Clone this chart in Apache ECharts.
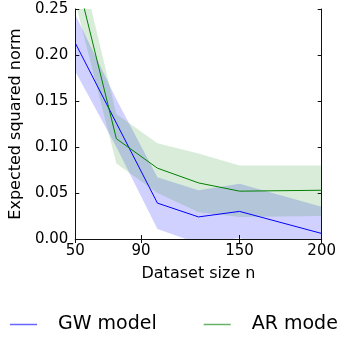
<!DOCTYPE html>
<html>
<head>
<meta charset="utf-8">
<script src="https://cdn.jsdelivr.net/npm/echarts@6/dist/echarts.min.js"></script>
<style>
  html, body { margin: 0; padding: 0; background: #fff; }
  #chart { width: 339px; height: 337px; }
</style>
</head>
<body>
<div id="chart"></div>
<script>
// dataset sizes on the x axis
const sizes = [50, 75, 100, 125, 150, 200];
const xTicks = [50, 90, 150, 200];

// GW model: mean line and shaded band
const gwMean = [0.213, 0.126, 0.039, 0.024, 0.030, 0.006];
const gwLow = [0.182, 0.100, 0.011, -0.005, 0.001, -0.023];
const gwHigh = [0.244, 0.152, 0.067, 0.053, 0.060, 0.035];

// AR model: mean line and shaded band
const arMean = [0.290, 0.109, 0.077, 0.061, 0.052, 0.053];
const arLow = [0.257, 0.082, 0.050, 0.029, 0.024, 0.025];
const arHigh = [0.323, 0.136, 0.104, 0.093, 0.080, 0.080];

const FONT = 'DejaVu Sans';
const pairs = (ys) => sizes.map((x, i) => [x, ys[i]]);

// band polygon: upper edge left->right, lower edge right->left
const band = (lo, hi, fill) => ({
  type: 'custom',
  silent: true,
  data: sizes.map((x, i) => [x, lo[i], hi[i]]),
  renderItem: (params, api) => {
    if (params.dataIndex !== 0) return;
    const top = sizes.map((x, i) => api.coord([x, hi[i]]));
    const bot = sizes.map((x, i) => api.coord([x, lo[i]])).reverse();
    const cs = params.coordSys;
    return {
      type: 'polygon',
      shape: { points: top.concat(bot) },
      style: { fill: fill },
      clipPath: { type: 'rect', shape: { x: cs.x, y: cs.y, width: cs.width, height: cs.height } }
    };
  }
});

const chart = echarts.init(document.getElementById('chart'));

const axisLine = { show: true, lineStyle: { color: '#111', width: 1 } };
const tick = { inside: true, length: 4, lineStyle: { color: '#111' } };

chart.setOption({
  animation: false,
  grid: { left: 73, right: 15, top: 9, bottom: 98 },
  legend: {
    data: [
      { name: 'GW model', itemStyle: { color: 'rgba(0,0,255,0.6)' } },
      { name: 'AR model', itemStyle: { color: 'rgba(0,128,0,0.6)' } }
    ],
    icon: 'rect',
    itemWidth: 27,
    itemHeight: 1.5,
    left: 5,
    top: 310,
    width: 700,
    itemGap: 47,
    textStyle: { fontFamily: FONT, fontSize: 19, color: '#000', padding: [0, 0, 0, 16] }
  },
  xAxis: [
    {
      type: 'value', min: 50, max: 200,
      name: 'Dataset size n', nameLocation: 'middle', nameGap: 27,
      nameTextStyle: { fontFamily: FONT, fontSize: 16, color: '#000' },
      axisLine: axisLine,
      axisTick: Object.assign({ customValues: xTicks }, tick),
      axisLabel: { customValues: xTicks, fontFamily: FONT, fontSize: 15, color: '#000', margin: 5 },
      splitLine: { show: false }
    },
    {
      type: 'value', min: 50, max: 200, position: 'top',
      axisLine: axisLine,
      axisTick: Object.assign({ customValues: xTicks }, tick),
      axisLabel: { show: false },
      splitLine: { show: false }
    }
  ],
  yAxis: [
    {
      type: 'value', min: 0, max: 0.25, interval: 0.05,
      name: 'Expected squared norm', nameLocation: 'middle', nameGap: 49,
      nameTextStyle: { fontFamily: FONT, fontSize: 16, color: '#000' },
      axisLine: axisLine,
      axisTick: tick,
      axisLabel: { fontFamily: FONT, fontSize: 15, color: '#000', margin: 7, formatter: (v) => v.toFixed(2) },
      splitLine: { show: false }
    },
    {
      type: 'value', min: 0, max: 0.25, interval: 0.05, position: 'right',
      axisLine: axisLine,
      axisTick: tick,
      axisLabel: { show: false },
      splitLine: { show: false }
    }
  ],
  series: [
    band(gwLow, gwHigh, 'rgba(0,0,255,0.18)'),
    band(arLow, arHigh, 'rgba(0,128,0,0.15)'),
    {
      name: 'GW model', type: 'line', data: pairs(gwMean), symbol: 'none',
      lineStyle: { color: '#0000ff', width: 1 }, itemStyle: { color: '#0000ff' }
    },
    {
      name: 'AR model', type: 'line', data: pairs(arMean), symbol: 'none',
      lineStyle: { color: '#008000', width: 1 }, itemStyle: { color: '#008000' }
    }
  ]
});
</script>
</body>
</html>
